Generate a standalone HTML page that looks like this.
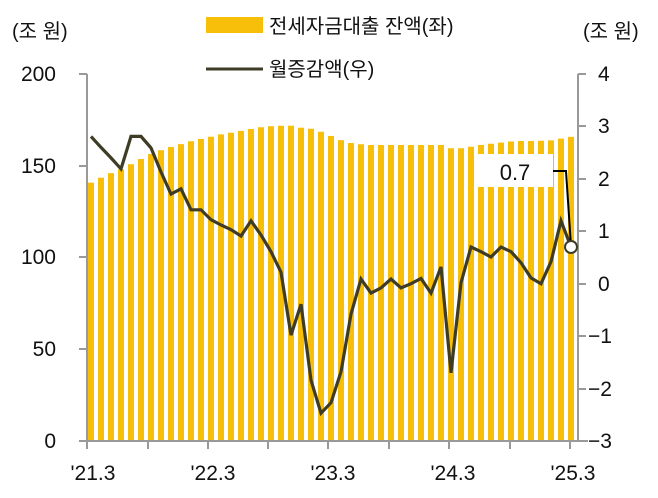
<!DOCTYPE html>
<html><head><meta charset="utf-8"><style>
html,body{margin:0;padding:0;background:#fff}
svg{display:block}
text{font-family:"Liberation Sans","Noto Sans CJK KR",sans-serif;fill:#111}
</style></head><body>
<svg width="658" height="498" viewBox="0 0 658 498" xmlns="http://www.w3.org/2000/svg">
<path fill="none" stroke="#F7BE0A" stroke-width="6" d="M91 182.6V440M101 177.7V440M111 173.1V440M121 169.4V440M131 164.3V440M141 159V440M151 154V440M161 150.3V440M171 147V440M181 144.1V440M191 141.3V440M201 139V440M211 136.8V440M221 134.4V440M231 132.7V440M241 130.9V440M251 129V440M261 127.2V440M271 126.3V440M281 125.7V440M291 125.7V440M301 127.8V440M311 128.7V440M321 131.8V440M331 136V440M341 140.1V440M351 143V440M361 144.3V440M371 145V440M381 145V440M391 145V440M401 145V440M411 145V440M421 145V440M431 145V440M441 145V440M451 148.3V440M461 148.3V440M471 146.7V440M481 145V440M491 143.7V440M501 142.6V440M511 141.5V440M521 141V440M531 141V440M541 140.8V440M551 140.4V440M561 138.6V440M571 136.9V440"/>
<g stroke="#999" stroke-width="2" fill="none">
<line x1="87" y1="74" x2="87" y2="441"/>
<line x1="578" y1="74" x2="578" y2="441"/>
<line x1="80" y1="441" x2="588" y2="441"/>
<path d="M79 74H87M79 166H87M79 257H87M79 349H87M79 441H87"/>
<path d="M578 74H586M578 126H586M578 179H586M578 231H586M578 284H586M578 336H586M578 389H586M578 441H586"/>
<path d="M87 441V449M148 441V449M208 441V449M268 441V449M328 441V449M389 441V449M449 441V449M510 441V449M570 441V449"/>
</g>
<polyline fill="none" stroke="#3F3C26" stroke-width="3.2" points="91,136.4 101,147.4 111,157.9 121,168.9 131,136.4 141,136.4 151,147.9 161,172 171,194.1 181,188.8 191,209.8 201,209.8 211,219.7 221,225 231,229.7 241,236 251,220.8 261,235 271,251.7 281,272.2 291,335.1 301,304.2 311,380.2 321,413.2 331,402.7 341,371.8 351,314.1 361,279 371,293.1 381,287.9 391,279 401,287.9 411,283.7 421,278.5 431,293.1 441,266.9 451,372.8 461,282.7 471,247 481,251.7 491,257 501,247 511,251.7 521,262.7 531,277.9 541,283.7 551,261.7 561,220.8 571,247"/>
<rect x="478" y="154" width="75" height="33" fill="#fff"/>
<text x="515" y="180" font-size="22" text-anchor="middle">0.7</text>
<polyline points="553,171 566,171 571,246" fill="none" stroke="#000" stroke-width="2"/>
<circle cx="571" cy="247" r="6" fill="#fff" stroke="#3F3C26" stroke-width="2"/>
<g font-size="21" text-anchor="end">
<text x="56" y="81">200</text><text x="56" y="173">150</text><text x="56" y="264">100</text><text x="56" y="356">50</text><text x="56" y="448">0</text>
</g>
<g font-size="21">
<text x="598" y="81">4</text><text x="598" y="133">3</text><text x="598" y="186">2</text><text x="598" y="238">1</text><text x="598" y="291">0</text>
<text x="588" y="343">−1</text><text x="588" y="396">−2</text><text x="588" y="448">−3</text>
</g>
<g font-size="21" text-anchor="middle">
<text x="93" y="480">'21.3</text><text x="213" y="480">'22.3</text><text x="333" y="480">'23.3</text><text x="453" y="480">'24.3</text><text x="573" y="480">'25.3</text>
</g>
<text x="12" y="38" font-size="20">(조 원)</text>
<text x="583" y="38" font-size="20">(조 원)</text>
<rect x="206" y="17" width="57" height="16" fill="#F7BE0A"/>
<text x="269" y="33" font-size="20">전세자금대출 잔액(좌)</text>
<line x1="206" y1="69" x2="263" y2="69" stroke="#3F3C26" stroke-width="3"/>
<text x="269" y="76" font-size="20">월증감액(우)</text>
</svg>
</body></html>
